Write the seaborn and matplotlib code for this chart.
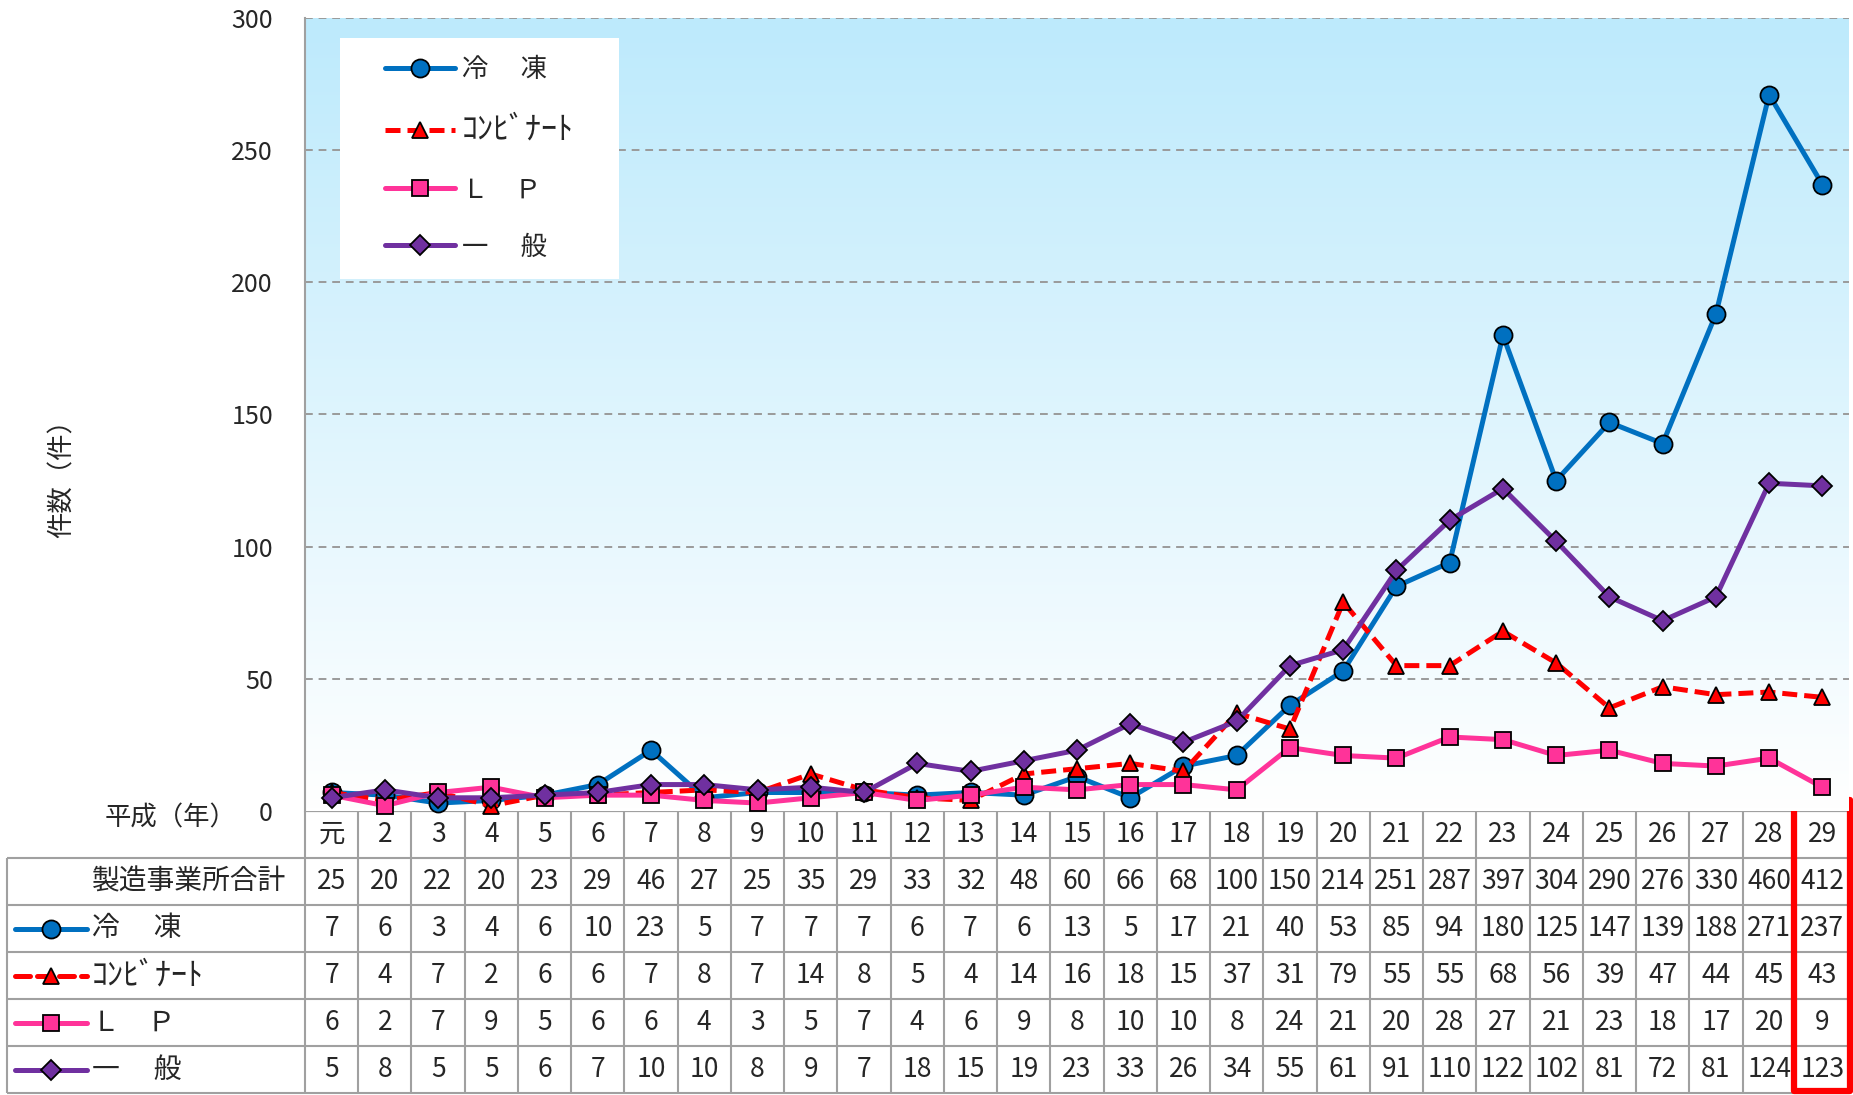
"""Accident counts by category (Heisei era) with data table below."""

import matplotlib.pyplot as plt
import numpy as np
import seaborn as sns
from matplotlib.lines import Line2D
from matplotlib.patches import Rectangle

# ---- data -----------------------------------------------------------------
years = ["元", "2", "3", "4", "5", "6", "7", "8", "9", "10", "11", "12", "13", "14",
         "15", "16", "17", "18", "19", "20", "21", "22", "23", "24", "25", "26",
         "27", "28", "29"]
total = [25, 20, 22, 20, 23, 29, 46, 27, 25, 35, 29, 33, 32, 48, 60, 66, 68, 100,
         150, 214, 251, 287, 397, 304, 290, 276, 330, 460, 412]
reito = [7, 6, 3, 4, 6, 10, 23, 5, 7, 7, 7, 6, 7, 6, 13, 5, 17, 21, 40, 53, 85,
         94, 180, 125, 147, 139, 188, 271, 237]
kombinat = [7, 4, 7, 2, 6, 6, 7, 8, 7, 14, 8, 5, 4, 14, 16, 18, 15, 37, 31, 79,
            55, 55, 68, 56, 39, 47, 44, 45, 43]
lp = [6, 2, 7, 9, 5, 6, 6, 4, 3, 5, 7, 4, 6, 9, 8, 10, 10, 8, 24, 21, 20, 28,
      27, 21, 23, 18, 17, 20, 9]
ippan = [5, 8, 5, 5, 6, 7, 10, 10, 8, 9, 7, 18, 15, 19, 23, 33, 26, 34, 55, 61,
         91, 110, 122, 102, 81, 72, 81, 124, 123]

series_labels = ["冷　 凍", "ｺﾝﾋﾞﾅｰﾄ", "Ｌ　Ｐ", "一　 般"]
series_values = [reito, kombinat, lp, ippan]
series_colors = ["#0070C0", "#FF0000", "#FF3399", "#7030A0"]
series_markers = ["o", "^", "s", "D"]
series_msize = [13, 12, 12, 10]
total_label = "製造事業所合計"
ylabel = "件数（件）"
xlabel = "平成（年）"

# ---- style ----------------------------------------------------------------
sns.set_style("white")
plt.rcParams["font.family"] = ["Noto Sans CJK JP", "DejaVu Sans"]

W, H = 1853, 1095
fig = plt.figure(figsize=(W / 100, H / 100), dpi=100)

# pixel layout
ax_l, ax_r, ax_t, ax_b = 305, 1849, 18, 811
tab_l, tab_b = 7, 1093
n = len(years)
colw = (ax_r - ax_l) / n

ax = fig.add_axes([ax_l / W, (H - ax_b) / H, (ax_r - ax_l) / W, (ax_b - ax_t) / H])
ax.set_zorder(3)

# gradient background
grad = np.linspace(0, 1, 256)[:, None]
top = np.array([189, 234, 252]) / 255
bot = np.array([255, 255, 255]) / 255
img = top[None, None, :] * (1 - grad[:, :, None]) + bot[None, None, :] * grad[:, :, None]
ax.imshow(img, extent=[-0.5, n - 0.5, 0, 300], aspect="auto", origin="upper", zorder=0)

x = np.arange(n)
handles = []
for vals, col, mk, ms, lab in zip(series_values, series_colors, series_markers,
                                   series_msize, series_labels):
    sns.lineplot(x=x, y=vals, ax=ax, color=col, marker=mk, markersize=ms,
                 markeredgecolor="black", markeredgewidth=1.3, linewidth=3.6,
                 clip_on=False, zorder=4)
    line = ax.lines[-1]
    if mk == "^":
        line.set_dashes([3, 1.4])
    handles.append(line)

ax.set_xlim(-0.5, n - 0.5)
ax.set_ylim(0, 300)
ax.set_yticks(np.arange(0, 301, 50))
ax.set_xticks([])
ax.tick_params(axis="y", labelsize=18, length=9, width=1.5, color="#A0A0A0", pad=14)
for v in range(50, 301, 50):
    ax.axhline(v, color="#9A9A9A", linestyle=(0, (4, 3)), linewidth=1.4, zorder=1)
for s in ["top", "right", "bottom"]:
    ax.spines[s].set_visible(False)
ax.spines["left"].set_color("#A0A0A0")
ax.spines["left"].set_linewidth(1.5)
ax.set_xlabel("")
ax.set_ylabel("")

# legend box
lx0, lx1, ly0, ly1 = 340, 619, 38, 279
ax.add_patch(Rectangle(((lx0 - ax_l) / (ax_r - ax_l), (ax_b - ly1) / (ax_b - ax_t)),
                       (lx1 - lx0) / (ax_r - ax_l), (ly1 - ly0) / (ax_b - ax_t),
                       transform=ax.transAxes, facecolor="white", edgecolor="none",
                       zorder=5))
leg = ax.legend(handles, series_labels, loc="center",
                bbox_to_anchor=(((lx0 + lx1) / 2 - ax_l) / (ax_r - ax_l),
                                (ax_b - (ly0 + ly1) / 2) / (ax_b - ax_t)),
                frameon=False, fontsize=19, handlelength=2.65, handletextpad=0.25,
                labelspacing=1.15)
leg.set_zorder(6)
# half-width katakana renders small; bump it up
for t in leg.get_texts():
    if t.get_text() == "ｺﾝﾋﾞﾅｰﾄ":
        t.set_fontsize(23)

fig.text(62 / W, 1 - 472 / H, ylabel, rotation=90, ha="center", va="center", fontsize=19)
fig.text(171 / W, 1 - 818 / H, xlabel, ha="center", va="center", fontsize=19)

# ---- table ----------------------------------------------------------------
tax = fig.add_axes([tab_l / W, (H - tab_b) / H, (ax_r - tab_l) / W, (tab_b - ax_b) / H])
tax.set_zorder(1)
tax.axis("off")
x_left = -0.5 - (ax_l - tab_l) / colw
tax.set_xlim(x_left, n - 0.5)
tax.set_ylim(6, 0)

gcol = "#A0A0A0"
# horizontal lines
tax.hlines(0, -0.5, n - 0.5, color=gcol, linewidth=1.6, clip_on=False)
tax.hlines(np.arange(1, 7), x_left, n - 0.5, color=gcol, linewidth=1.5, clip_on=False)
# vertical lines
tax.vlines(np.arange(-0.5, n), 0, 6, color=gcol, linewidth=1.5, clip_on=False)
tax.vlines(x_left, 1, 6, color=gcol, linewidth=1.5, clip_on=False)

rows = [total] + series_values
for j, yr in enumerate(years):
    tax.text(j, 0.5, yr, ha="center", va="center", fontsize=19)
    for i, r in enumerate(rows):
        tax.text(j, 1.5 + i, str(r[j]), ha="center", va="center", fontsize=19)

txt_x = x_left + (92 - tab_l) / colw
tax.text(txt_x, 1.5, total_label, ha="left", va="center", fontsize=20)
k0 = x_left + (15 - tab_l) / colw
k1 = x_left + (87 - tab_l) / colw
km = (k0 + k1) / 2
for i, (col, mk, ms, lab) in enumerate(zip(series_colors, series_markers,
                                           series_msize, series_labels)):
    yy = 2.5 + i
    ln = Line2D([k0, k1], [yy, yy], color=col, linewidth=3.6, solid_capstyle="round",
                dash_capstyle="round")
    if mk == "^":
        ln.set_dashes([3, 1.4])
    tax.add_line(ln)
    tax.plot([km], [yy], marker=mk, markersize=ms, color=col,
             markeredgecolor="black", markeredgewidth=1.3, linestyle="none")
    fs = 23 if lab == "ｺﾝﾋﾞﾅｰﾄ" else 20
    tax.text(txt_x, yy, lab, ha="left", va="center", fontsize=fs)

# highlight last year column
tax.add_patch(Rectangle((n - 1.5 - 0.04, -0.23), 1.06, 6.18, fill=False,
                        edgecolor="#FF0000", linewidth=4.5, clip_on=False,
                        joinstyle="round", zorder=6))

fig.savefig("out.png", dpi=100)
plt.close(fig)
